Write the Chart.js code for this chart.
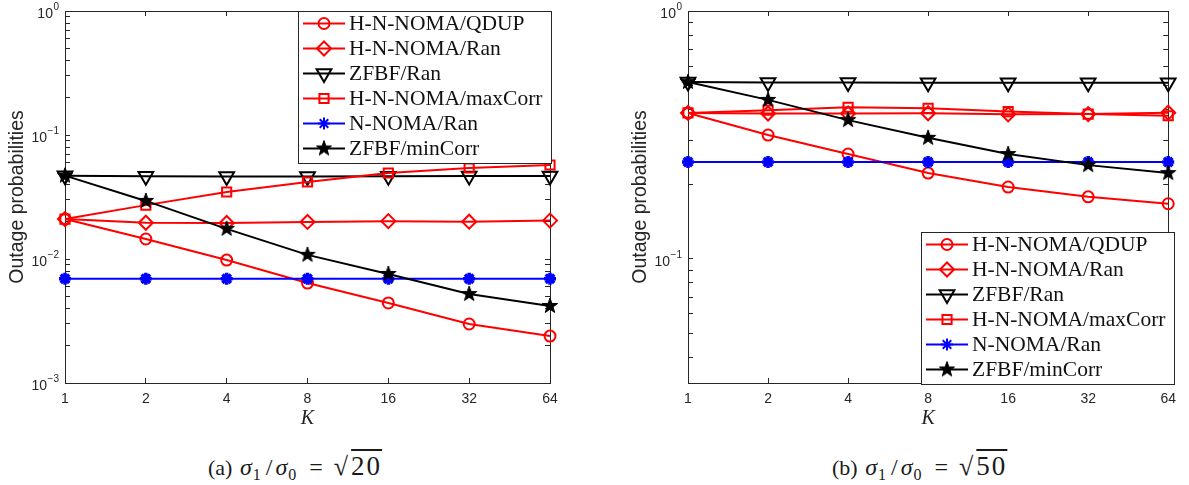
<!DOCTYPE html>
<html>
<head>
<meta charset="utf-8">
<script src="https://cdn.jsdelivr.net/npm/chart.js@4.4.1/dist/chart.umd.min.js"></script>
<style>
  body { margin: 0; background: #fff; width: 1189px; height: 485px; position: relative; overflow: hidden; }
  canvas { position: absolute; top: 0; }
  #chartA { left: 0; }
  #chartB { left: 600px; }
  .cap { position: absolute; top: 451px; font-family: 'Liberation Serif', serif; font-size: 22px; color: #1a1a1a; white-space: nowrap; }
  .cap .m { font-size: 24px; margin-left: 2px; }
  .cap i { font-style: italic; }
  .cap sub { font-size: 16px; vertical-align: -5px; line-height: 0; margin-right: 2px; margin-left: 1px; }
  .cap .sl { margin: 0 3px; }
  .cap .eq { margin: 0 11px; }
  .cap .rad { font-size: 26px; }
  .cap .rt { text-decoration: overline; font-family: 'Liberation Serif', serif; font-size: 27px; padding-left: 3px; letter-spacing: 2px; }
</style>
</head>
<body>
<canvas id="chartA" width="590" height="440"></canvas>
<canvas id="chartB" width="589" height="440"></canvas>
<div class="cap" style="left:208px">(a) <span class="m"><i>&sigma;</i><sub>1</sub><span class="sl">/</span><i>&sigma;</i><sub>0</sub><span class="eq">=</span><span class="rad">&radic;</span><span class="rt">20</span></span></div>
<div class="cap" style="left:832px">(b) <span class="m"><i>&sigma;</i><sub>1</sub><span class="sl">/</span><i>&sigma;</i><sub>0</sub><span class="eq">=</span><span class="rad">&radic;</span><span class="rt">50</span></span></div>
<script>
const kLabels = ['1', '2', '4', '8', '16', '32', '64'];
const seriesNames = ['H-N-NOMA/QDUP', 'H-N-NOMA/Ran', 'ZFBF/Ran', 'H-N-NOMA/maxCorr', 'N-NOMA/Ran', 'ZFBF/minCorr'];

// (a) sigma1/sigma0 = sqrt(20)
const qdupA = [0.0210, 0.0145, 0.0098, 0.0064, 0.00442, 0.00299, 0.00239];
const ranA = [0.0210, 0.0196, 0.0195, 0.0199, 0.0202, 0.0200, 0.0204];
const zfbfRanA = [0.0470, 0.0465, 0.0462, 0.0462, 0.0464, 0.0466, 0.0468];
const maxCorrA = [0.0210, 0.0272, 0.0347, 0.0418, 0.0494, 0.0542, 0.0573];
const nnomaA = [0.00693, 0.00693, 0.00693, 0.00693, 0.00693, 0.00693, 0.00693];
const minCorrA = [0.0470, 0.0294, 0.0175, 0.0108, 0.00757, 0.00522, 0.00418];

// (b) sigma1/sigma0 = sqrt(50)
const qdupB = [0.388, 0.316, 0.265, 0.222, 0.195, 0.178, 0.167];
const ranB = [0.388, 0.386, 0.386, 0.387, 0.383, 0.384, 0.389];
const zfbfRanB = [0.517, 0.515, 0.515, 0.514, 0.514, 0.514, 0.514];
const maxCorrB = [0.388, 0.398, 0.409, 0.405, 0.393, 0.384, 0.378];
const nnomaB = [0.246, 0.246, 0.246, 0.246, 0.246, 0.246, 0.246];
const minCorrB = [0.517, 0.438, 0.363, 0.308, 0.265, 0.239, 0.222];

const majorExpsA = [-3, -2, -1, 0];
const majorExpsB = [-1, 0];

const AXIS = '#262626';

function makePentagram(r, color) {
  const size = Math.ceil(r * 2 + 2);
  const c = document.createElement('canvas');
  c.width = size;
  c.height = size;
  const g = c.getContext('2d');
  g.fillStyle = color;
  g.strokeStyle = color;
  g.lineWidth = 1;
  g.beginPath();
  for (let i = 0; i < 10; i++) {
    const rr = i % 2 === 0 ? r : r * 0.4;
    const a = -Math.PI / 2 + i * Math.PI / 5;
    g.lineTo(size / 2 + rr * Math.cos(a), size / 2 + rr * Math.sin(a));
  }
  g.closePath();
  g.fill();
  g.stroke();
  return c;
}

const starImg = makePentagram(8, '#000');

const markers = [
  { color: '#ff0000', pointStyle: 'circle', radius: 5.5, rotation: 0 },
  { color: '#ff0000', pointStyle: 'rectRot', radius: 7, rotation: 0 },
  { color: '#000000', pointStyle: 'triangle', radius: 8.5, rotation: 180 },
  { color: '#ff0000', pointStyle: 'rect', radius: 6.5, rotation: 0 },
  { color: '#0000ff', pointStyle: 'star', radius: 6, rotation: 0 },
  { color: '#000000', pointStyle: starImg, radius: 8, rotation: 0 }
];

function markerBorder(m) {
  return m.pointStyle === 'star' ? 3.5 : 2;
}

function logTicks(min, max) {
  const vals = [];
  for (let e = -4; e <= 0; e++) {
    for (let m = 1; m <= 9; m++) {
      const v = m * Math.pow(10, e);
      if (v >= min * 0.999 && v <= max * 1.001) vals.push(v);
    }
  }
  return vals;
}

const expLabels = {
  id: 'expLabels',
  afterDraw(chart, args, opts) {
    const ctx = chart.ctx;
    const scale = chart.scales.y;
    ctx.save();
    ctx.fillStyle = AXIS;
    ctx.textBaseline = 'middle';
    opts.exps.forEach((e) => {
      const y = scale.getPixelForValue(Math.pow(10, e));
      const expText = String(e).replace('-', '\u2212');
      ctx.font = '10px "Liberation Sans", Arial, sans-serif';
      const ew = ctx.measureText(expText).width;
      ctx.textAlign = 'left';
      ctx.fillText(expText, opts.right - ew, y - 4);
      ctx.font = '14px "Liberation Sans", Arial, sans-serif';
      ctx.textAlign = 'right';
      ctx.fillText('10', opts.right - ew - 0.5, y + 3);
    });
    ctx.restore();
  }
};

const boxLegend = {
  id: 'boxLegend',
  afterDraw(chart, args, opts) {
    const ctx = chart.ctx;
    ctx.save();
    ctx.fillStyle = '#fff';
    ctx.fillRect(opts.x, opts.y, opts.w, opts.h);
    ctx.strokeStyle = AXIS;
    ctx.lineWidth = 1;
    ctx.strokeRect(opts.x + 0.5, opts.y + 0.5, opts.w, opts.h);
    ctx.font = '21.5px "Liberation Serif", "DejaVu Serif", serif';
    ctx.textBaseline = 'middle';
    ctx.textAlign = 'left';
    seriesNames.forEach((name, i) => {
      const y = opts.y + 12.5 + i * 25;
      const m = markers[i];
      ctx.strokeStyle = m.color;
      ctx.lineWidth = 2;
      ctx.beginPath();
      ctx.moveTo(opts.x + 5, y);
      ctx.lineTo(opts.x + 47, y);
      ctx.stroke();
      ctx.fillStyle = 'rgba(0,0,0,0)';
      Chart.helpers.drawPoint(ctx, {
        pointStyle: m.pointStyle,
        radius: m.radius,
        rotation: m.rotation,
        borderWidth: markerBorder(m)
      }, opts.x + 26, y);
      ctx.fillStyle = '#111';
      ctx.fillText(name, opts.x + 51, y + 1);
    });
    ctx.restore();
  }
};

function tickGrid() {
  return { display: true, drawOnChartArea: false, drawTicks: true, tickLength: -5, color: AXIS, lineWidth: 1 };
}

function makeChart(canvasId, series, cfg) {
  const datasets = series.map((data, i) => {
    const m = markers[i];
    return {
      label: seriesNames[i],
      data: data,
      borderColor: m.color,
      backgroundColor: m.color,
      borderWidth: 2,
      pointStyle: m.pointStyle,
      pointRadius: m.radius,
      pointHoverRadius: m.radius,
      pointRotation: m.rotation,
      pointBorderColor: m.color,
      pointBackgroundColor: 'rgba(0,0,0,0)',
      pointBorderWidth: markerBorder(m),
      tension: 0,
      order: 6 - i
    };
  });
  const ticks = logTicks(cfg.yMin, cfg.yMax);
  return new Chart(document.getElementById(canvasId), {
    type: 'line',
    data: { labels: kLabels, datasets: datasets },
    options: {
      responsive: false,
      animation: false,
      events: [],
      layout: { padding: cfg.padding },
      plugins: {
        legend: { display: false },
        tooltip: { enabled: false },
        expLabels: { exps: cfg.exps, right: cfg.labelRight },
        boxLegend: cfg.legend
      },
      scales: {
        x: {
          type: 'category',
          offset: false,
          grid: tickGrid(),
          border: { display: true, color: AXIS, width: 1 },
          ticks: { color: AXIS, font: { family: 'Liberation Sans', size: 14 }, padding: 13, maxRotation: 0, autoSkip: false },
          title: { display: true, text: 'K', color: '#222', font: { family: 'Liberation Serif', size: 20, style: 'italic' }, padding: { top: 0, bottom: 4 } },
          afterFit: (s) => { s.height = 52; }
        },
        x2: {
          type: 'category',
          position: 'top',
          offset: false,
          grid: tickGrid(),
          border: { display: true, color: AXIS, width: 1 },
          ticks: { display: false },
          afterFit: (s) => { s.height = 0; }
        },
        y: {
          type: 'logarithmic',
          min: cfg.yMin,
          max: cfg.yMax,
          grid: tickGrid(),
          border: { display: true, color: AXIS, width: 1 },
          ticks: { display: false },
          title: { display: true, text: 'Outage probabilities', color: AXIS, font: { family: 'Liberation Sans', size: 19.5 }, padding: { top: cfg.titlePad, bottom: 0 } },
          afterBuildTicks: (s) => { s.ticks = ticks.map((v) => ({ value: v })); },
          afterFit: (s) => { s.width = cfg.yWidth; }
        },
        y2: {
          type: 'logarithmic',
          position: 'right',
          min: cfg.yMin,
          max: cfg.yMax,
          grid: tickGrid(),
          border: { display: true, color: AXIS, width: 1 },
          ticks: { display: false },
          afterBuildTicks: (s) => { s.ticks = ticks.map((v) => ({ value: v })); },
          afterFit: (s) => { s.width = 0; }
        }
      }
    },
    plugins: [expLabels, boxLegend]
  });
}

makeChart('chartA', [qdupA, ranA, zfbfRanA, maxCorrA, nnomaA, minCorrA], {
  yMin: 0.001,
  yMax: 1,
  exps: majorExpsA,
  labelRight: 59,
  yWidth: 65,
  titlePad: 6,
  padding: { top: 11, right: 40, bottom: 5, left: 0 },
  legend: { x: 298, y: 11, w: 253, h: 152 }
});

makeChart('chartB', [qdupB, ranB, zfbfRanB, maxCorrB, nnomaB, minCorrB], {
  yMin: 0.0316,
  yMax: 1,
  exps: majorExpsB,
  labelRight: 82,
  yWidth: 88,
  titlePad: 29,
  padding: { top: 11, right: 15, bottom: 5, left: 0 },
  legend: { x: 321, y: 232, w: 253, h: 152 }
});
</script>
</body>
</html>
